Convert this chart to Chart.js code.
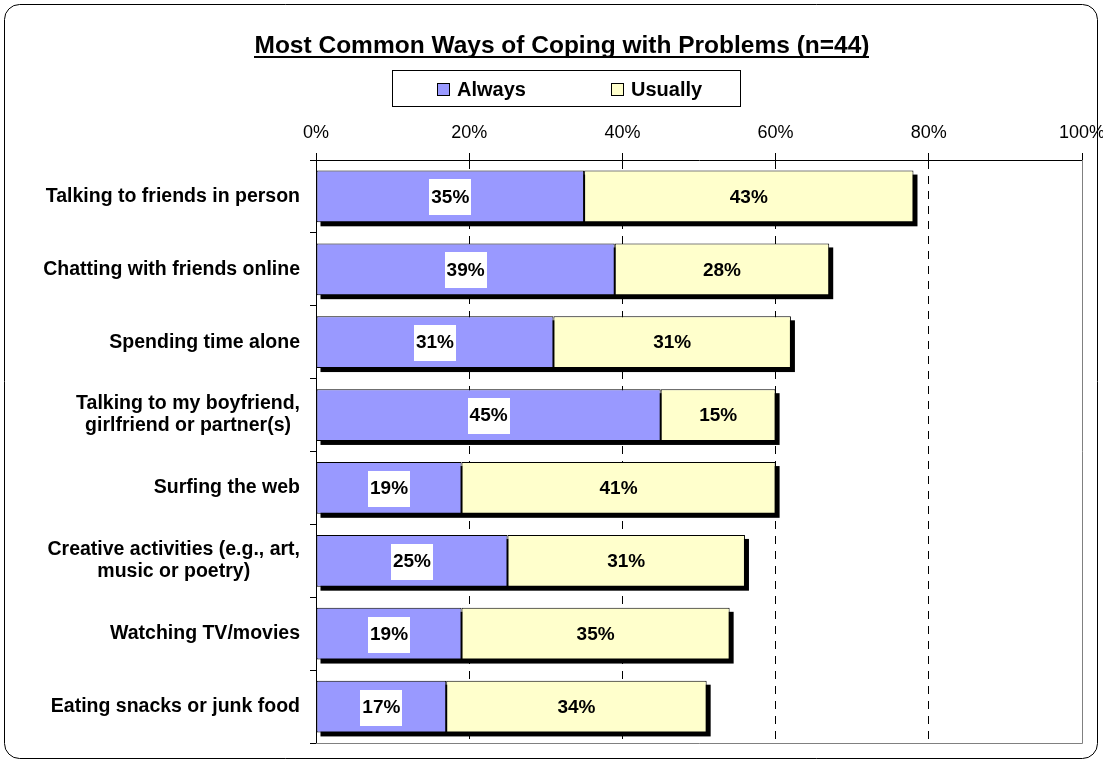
<!DOCTYPE html>
<html>
<head>
<meta charset="utf-8">
<title>Coping with Problems</title>
<script src="https://cdn.jsdelivr.net/npm/chart.js@4.4.1/dist/chart.umd.min.js"></script>
<style>
  html, body { margin: 0; padding: 0; background: #fff; }
  #wrap { width: 1103px; height: 764px; }
</style>
</head>
<body>
<div id="wrap"><canvas id="coping-chart" width="1103" height="764"></canvas></div>
<script>
const categories = [
    "Talking to friends in person",
    "Chatting with friends online",
    "Spending time alone",
    ["Talking to my boyfriend,", "girlfriend or partner(s)"],
    "Surfing the web",
    ["Creative activities (e.g., art,", "music or poetry)"],
    "Watching TV/movies",
    "Eating snacks or junk food"
];
const always = [35, 39, 31, 45, 19, 25, 19, 17];
const usually = [43, 28, 31, 15, 41, 31, 35, 34];
const xTicks = [0, 20, 40, 60, 80, 100];

const chartTitle = "Most Common Ways of Coping with Problems (n=44)";
const FONT = '"Liberation Sans", Arial, Helvetica, sans-serif';
const BLUE = "#9999ff";
const YELLOW = "#ffffcc";

// shadows, value labels, category labels, title, legend box, frame
const decorations = {
    id: 'decorations',
    beforeDatasetsDraw(chart) {
        const ctx = chart.ctx;
        const area = chart.chartArea;
        // plot area edge on the right and bottom
        ctx.save();
        ctx.strokeStyle = "#808080";
        ctx.lineWidth = 1;
        ctx.beginPath();
        ctx.moveTo(area.right + 0.5, area.top);
        ctx.lineTo(area.right + 0.5, area.bottom + 0.5);
        ctx.lineTo(area.left, area.bottom + 0.5);
        ctx.stroke();

        // black drop shadow under each stacked bar
        const first = chart.getDatasetMeta(0).data;
        const last = chart.getDatasetMeta(chart.data.datasets.length - 1).data;
        ctx.fillStyle = "#000";
        first.forEach((bar, i) => {
            const end = last[i];
            ctx.fillRect(bar.base + 4, bar.y - bar.height / 2 + 4, end.x - bar.base, bar.height);
        });
        ctx.restore();
    },
    afterDatasetsDraw(chart) {
        const ctx = chart.ctx;
        ctx.save();
        ctx.font = "bold 19px " + FONT;
        ctx.textAlign = "center";
        ctx.textBaseline = "middle";
        chart.data.datasets.forEach((ds, di) => {
            chart.getDatasetMeta(di).data.forEach((bar, i) => {
                const cx = (bar.x + bar.base) / 2;
                const text = ds.data[i] + "%";
                const w = ctx.measureText(text).width;
                if (di === 0) {
                    ctx.fillStyle = "#fff";
                    ctx.fillRect(Math.round(cx - w / 2 - 2), Math.round(bar.y - 17), Math.round(w + 4), 36);
                }
                ctx.fillStyle = "#000";
                ctx.fillText(text, cx, bar.y + 1);
            });
        });
        ctx.restore();
    },
    afterDraw(chart) {
        const ctx = chart.ctx;
        const yScale = chart.scales.y;
        ctx.save();

        // category labels: block right aligned, lines centred inside it
        ctx.font = "bold 19.5px " + FONT;
        ctx.fillStyle = "#000";
        ctx.textAlign = "center";
        ctx.textBaseline = "middle";
        const rightEdge = 300;
        categories.forEach((label, i) => {
            const lines = Array.isArray(label) ? label : [label];
            const blockW = Math.max(...lines.map(l => ctx.measureText(l).width));
            const cx = rightEdge - blockW / 2;
            const cy = yScale.getPixelForValue(i);
            const lh = 22;
            lines.forEach((l, k) => {
                ctx.fillText(l, cx, cy + (k - (lines.length - 1) / 2) * lh);
            });
        });

        // title, underlined
        ctx.font = "bold 24.5px " + FONT;
        ctx.textAlign = "center";
        ctx.textBaseline = "alphabetic";
        const tx = 562, ty = 53;
        ctx.fillText(chartTitle, tx, ty);
        const tw = ctx.measureText(chartTitle).width;
        ctx.fillRect(Math.round(tx - tw / 2), ty + 3, Math.round(tw), 2);

        // legend box
        ctx.lineWidth = 1;
        ctx.strokeStyle = "#000";
        ctx.strokeRect(392.5, 70.5, 348, 36);
        ctx.font = "bold 20px " + FONT;
        ctx.textAlign = "left";
        ctx.textBaseline = "middle";
        const items = [
            { x: 437, text: chart.data.datasets[0].label, color: BLUE },
            { x: 611, text: chart.data.datasets[1].label, color: YELLOW }
        ];
        items.forEach(it => {
            ctx.fillStyle = it.color;
            ctx.fillRect(it.x, 83, 12, 12);
            ctx.strokeRect(it.x + 0.5, 83.5, 12, 12);
            ctx.fillStyle = "#000";
            ctx.fillText(it.text, it.x + 20, 90);
        });

        // rounded outer frame
        ctx.beginPath();
        ctx.roundRect(4.5, 4.5, 1093, 754, 15);
        ctx.stroke();
        ctx.restore();
    }
};

const data = {
    labels: categories,
    datasets: [
        {
            label: "Always",
            data: always,
            backgroundColor: BLUE,
            borderColor: "#000",
            borderWidth: 1,
            borderSkipped: false
        },
        {
            label: "Usually",
            data: usually,
            backgroundColor: YELLOW,
            borderColor: "#000",
            borderWidth: 1,
            borderSkipped: false
        }
    ]
};

const config = {
    type: 'bar',
    data: data,
    plugins: [decorations],
    options: {
        indexAxis: 'y',
        responsive: false,
        animation: false,
        layout: {
            padding: { top: 0, left: 0, right: 21, bottom: 21 }
        },
        datasets: {
            bar: { categoryPercentage: 1, barPercentage: 0.71 }
        },
        plugins: {
            legend: { display: false },
            title: { display: false },
            tooltip: { enabled: false }
        },
        scales: {
            x: {
                position: 'top',
                stacked: true,
                min: 0,
                max: 100,
                afterFit: scale => {
                    scale.height = 160;
                    scale.paddingLeft = 0;
                    scale.paddingRight = 0;
                },
                afterBuildTicks: scale => { scale.ticks = xTicks.map(v => ({ value: v })); },
                ticks: {
                    callback: v => v + "%",
                    color: "#000",
                    font: { family: FONT, size: 18 },
                    padding: 9,
                    maxRotation: 0
                },
                grid: {
                    color: c => (c.tick && (c.tick.value === 0 || c.tick.value === 100)) ? "rgba(0,0,0,0)" : "#000",
                    tickColor: "#000",
                    tickLength: 7,
                    lineWidth: 1
                },
                border: { color: "#000", width: 1, dash: [8, 7] }
            },
            y: {
                stacked: true,
                afterFit: scale => {
                    scale.width = 316;
                    scale.paddingTop = 0;
                    scale.paddingBottom = 0;
                },
                ticks: { display: false },
                grid: {
                    offset: true,
                    drawOnChartArea: false,
                    tickColor: "#000",
                    tickLength: 6
                },
                border: { color: "#000", width: 1 }
            }
        }
    }
};

new Chart(document.getElementById("coping-chart"), config);
</script>
</body>
</html>
